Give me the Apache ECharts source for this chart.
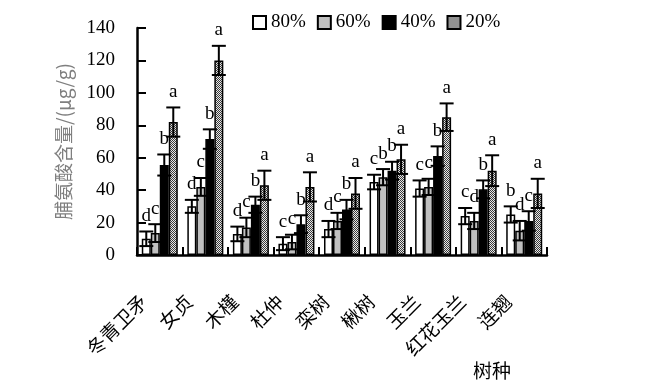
<!DOCTYPE html>
<html>
<head>
<meta charset="utf-8">
<script src="https://cdn.jsdelivr.net/npm/echarts@6/dist/echarts.min.js"></script>
<style>html,body{margin:0;padding:0;background:#fff;}#c{width:648px;height:383px;}</style>
</head>
<body>
<div id="c"></div>
<script>
const categories = ['冬青卫矛','女贞','木槿','杜仲','栾树','楸树','玉兰','红花玉兰','连翘'];
const seriesNames = ['80%','60%','40%','20%'];
const yTicks = [0,20,40,60,80,100,120,140];

const v80 = [10, 30, 13, 7, 16, 45, 41, 24, 25];
const e80 = [4.5, 4, 4.5, 4, 5, 4.5, 5, 5, 5];
const l80 = ['d','d','d','c','d','c','c','c','b'];

const v60 = [13.5, 42, 17, 8, 21, 48, 42, 21, 15];
const e60 = [5.5, 5.5, 6, 4.5, 5, 5, 5, 5, 6];
const l60 = ['c','c','c','c','c','b','c','d','d'];

const v40 = [55.5, 71.5, 31, 19, 28, 52, 61, 40.5, 21];
const e40 = [6.5, 6, 5, 5.5, 6, 5.5, 6, 5.5, 6];
const l40 = ['b','b','b','b','b','b','b','b','c'];

const v20 = [82, 120, 43, 42, 38, 59, 85, 52, 38];
const e20 = [9, 9, 9, 9, 9.5, 9, 8.5, 9.5, 9];
const l20 = ['a','a','a','a','a','a','a','a','a'];

const values = [v80, v60, v40, v20];
const errors = [e80, e60, e40, e20];
const letters = [l80, l60, l40, l20];

// checker pattern for 20%
const cv = document.createElement('canvas');
cv.width = 2; cv.height = 2;
const cx = cv.getContext('2d');
cx.fillStyle = '#e8e8e8'; cx.fillRect(0,0,2,2);
cx.fillStyle = '#3a3a3a'; cx.fillRect(0,0,1,1); cx.fillRect(1,1,1,1);
const pattern = {image: cv, repeat: 'repeat'};

const fills = ['#ffffff', '#c0c0c0', '#000000', pattern];
const BW = 9;
const serif = 'Liberation Serif';
const cjk = 'Noto Sans CJK SC';

const series = [];
seriesNames.forEach((name, k) => {
  series.push({
    name: name,
    type: 'bar',
    barWidth: BW,
    barGap: '0%',
    data: values[k],
    itemStyle: {color: fills[k], borderColor: '#000', borderWidth: 1.5},
    z: 2
  });
});
seriesNames.forEach((name, k) => {
  series.push({
    type: 'custom',
    name: name + '_err',
    z: 3,
    data: values[k].map((v, i) => [i, v, errors[k][i]]),
    renderItem: function (params, api) {
      const ci = api.value(0), v = api.value(1), e = api.value(2);
      const top = api.coord([ci, v + e]);
      const bot = api.coord([ci, Math.max(0, v - e)]);
      const x = top[0] + (k - 1.5) * BW;
      const hw = 7;
      const st = {stroke: '#000', lineWidth: 2};
      return {
        type: 'group',
        children: [
          {type: 'line', shape: {x1: x, y1: top[1], x2: x, y2: bot[1]}, style: st},
          {type: 'line', shape: {x1: x - hw, y1: top[1], x2: x + hw, y2: top[1]}, style: st},
          {type: 'line', shape: {x1: x - hw, y1: bot[1], x2: x + hw, y2: bot[1]}, style: st},
          {type: 'text', x: x, y: top[1] - 6, style: {
            text: letters[k][params.dataIndex], fill: '#000', fontSize: 19,
            fontFamily: serif, align: 'center', verticalAlign: 'bottom'}}
        ]
      };
    }
  });
});

const chart = echarts.init(document.getElementById('c'), null, {renderer: 'canvas'});
chart.setOption({
  animation: false,
  backgroundColor: '#fff',
  title: {
    text: '树种', left: 468, top: 356,
    textStyle: {fontSize: 19, fontWeight: 'normal', fontFamily: cjk, color: '#000'}
  },
  legend: {
    data: seriesNames, left: 247, top: 8,
    itemWidth: 13, itemHeight: 13, itemGap: 11,
    icon: 'rect',
    textStyle: {fontSize: 19, fontFamily: serif, color: '#000'}
  },
  grid: {left: 137, right: 101, top: 28, bottom: 128},
  xAxis: {
    type: 'category', data: categories, z: 5,
    axisLine: {lineStyle: {color: '#000', width: 2.5}},
    axisTick: {show: true, inside: true, length: 8, interval: 0, lineStyle: {color: '#000', width: 2}},
    axisLabel: {rotate: 45, interval: 0, margin: 27, padding: [0, 23, 0, 0], fontSize: 19, fontFamily: cjk, color: '#000'},
    splitLine: {show: false}
  },
  yAxis: {
    type: 'value', min: 0, max: 140, interval: 20, z: 5,
    name: '脯氨酸含量/(μg/g)', nameLocation: 'middle', nameGap: 64,
    nameTextStyle: {fontSize: 19, fontFamily: cjk, color: '#7f7f7f'},
    axisLine: {show: true, lineStyle: {color: '#000', width: 2.5}},
    axisTick: {show: true, inside: true, length: 9, lineStyle: {color: '#000', width: 2}},
    axisLabel: {margin: 22, fontSize: 19, fontFamily: serif, color: '#000',
      formatter: v => yTicks.indexOf(v) >= 0 ? String(v) : ''},
    splitLine: {show: false}
  },
  series: series
});
</script>
</body>
</html>
